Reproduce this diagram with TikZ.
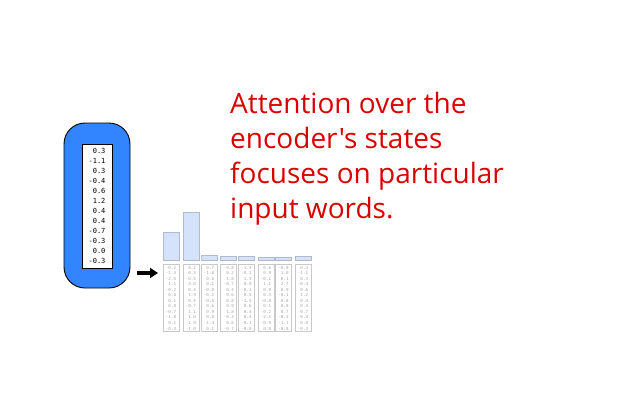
\documentclass[tikz,border=0pt]{standalone}
\usepackage{fontspec}
\usetikzlibrary{arrows.meta}
\newfontfamily\opensans{Open Sans}
\newfontfamily\dmono{DejaVu Sans Mono}
\exhyphenpenalty=10000
\hyphenpenalty=10000
\definecolor{encblue}{RGB}{51,133,255}
\definecolor{redtxt}{RGB}{218,0,0}
\definecolor{barfill}{RGB}{212,226,252}
\definecolor{barline}{RGB}{176,186,204}
\definecolor{colline}{RGB}{200,200,200}
\definecolor{coltxt}{RGB}{165,165,165}
\tikzset{
  redline/.style={anchor=base west, inner sep=0pt, text=redtxt, font=\opensans\fontsize{28}{35}\selectfont},
  colbox/.style={draw=colline, line width=0.8pt, minimum width=16pt, minimum height=67pt, align=right, inner sep=0pt, text=coltxt, font=\dmono\fontsize{4.2}{5.55}\selectfont},
  barbox/.style={draw=barline, fill=barfill, line width=0.8pt},
  stateouter/.style={draw=black, line width=0.9pt, fill=encblue, rounded corners=21pt, minimum width=66pt, minimum height=165pt},
  stateinner/.style={draw=black, line width=0.6pt, fill=white, minimum width=30pt, minimum height=124pt, align=right, inner sep=0pt, font=\dmono\fontsize{7}{10}\selectfont},
  feed/.style={line width=3.5pt, -{Triangle[length=8pt,width=10pt]}}
}
\begin{document}
\begin{tikzpicture}[x=1pt,y=-1pt]
\useasboundingbox (0,0) rectangle (640,400);
% decoder state
\node[stateouter] (outer) at (97,205.5) {};
\node[stateinner] (inner) at (97,206) {0.3\\-1.1\\0.3\\-0.4\\0.6\\1.2\\0.4\\0.4\\-0.7\\-0.3\\0.0\\-0.3};
% arrow
\coordinate (as) at (137,273);
\coordinate (ae) at (158,273);
\draw[feed] (as) -- (ae);
% encoder states
\def\colA{-0.2\\-1.3\\-2.5\\1.1\\-0.2\\0.8\\0.1\\0.8\\-0.7\\-1.8\\0.1\\-0.3}
\def\colB{0.2\\0.3\\-0.5\\-3.0\\0.4\\1.9\\0.4\\-0.7\\1.1\\1.0\\-1.9\\-1.0}
\def\colC{0.7\\-1.8\\0.8\\0.1\\-0.8\\-0.3\\-0.5\\0.6\\0.9\\0.8\\-1.4\\0.1}
\def\colD{-0.8\\0.2\\1.8\\-0.7\\0.4\\0.6\\0.8\\0.9\\1.8\\-0.3\\0.6\\-0.7}
\def\colE{-1.3\\-0.2\\1.3\\0.0\\-0.1\\-0.5\\-1.5\\0.6\\0.4\\0.4\\-0.1\\-0.0}
\def\colF{0.6\\0.9\\-0.1\\1.1\\0.9\\0.3\\-0.0\\0.1\\-0.2\\-2.1\\-0.9\\0.0}
\def\colG{-0.9\\1.0\\0.1\\2.7\\0.9\\-0.1\\0.8\\0.8\\0.7\\-0.3\\-1.1\\-0.8}
\def\colH{0.3\\-1.1\\0.3\\-0.4\\0.6\\1.2\\0.4\\0.4\\-0.7\\-0.3\\0.0\\-0.3}
\node[colbox] (c1) at (171,298) {\colA};
\node[colbox] (c2) at (190.9,298) {\colB};
\node[colbox] (c3) at (209,298) {\colC};
\node[colbox] (c4) at (228.8,298) {\colD};
\node[colbox] (c5) at (246.5,298) {\colE};
\node[colbox] (c6) at (266,298) {\colF};
\node[colbox] (c7) at (283.5,298) {\colG};
\node[colbox] (c8) at (303,298) {\colH};
% attention bars
\draw[barbox] (163,260.5) rectangle (179,232);
\draw[barbox] (182.9,260.5) rectangle (198.9,212.5);
\draw[barbox] (201,260.5) rectangle (217,255.5);
\draw[barbox] (220.8,260.5) rectangle (236.8,256.5);
\draw[barbox] (238.5,260.5) rectangle (254.5,256.5);
\draw[barbox] (258,260.5) rectangle (274,257);
\draw[barbox] (275.5,260.5) rectangle (291.5,257.5);
\draw[barbox] (295,260.5) rectangle (311,256.5);
% caption
\node[redline] (t1) at (230,113) {Attention over the};
\node[redline] (t2) at (230,148) {encoder's states};
\node[redline] (t3) at (230,183) {focuses on particular};
\node[redline] (t4) at (230,218) {input words.};
\end{tikzpicture}
\end{document}
